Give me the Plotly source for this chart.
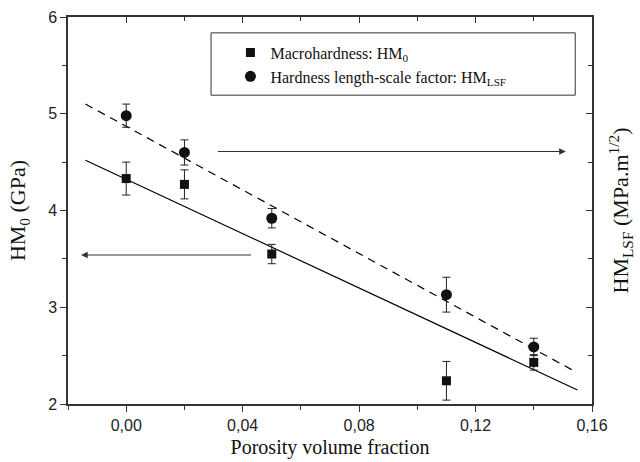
import plotly.graph_objects as go

# Data
porosity = [0.00, 0.02, 0.05, 0.11, 0.14]
hm0 = [4.33, 4.27, 3.55, 2.24, 2.43]
hm0_err = [0.17, 0.15, 0.10, 0.20, 0.08]
hm_lsf = [4.98, 4.60, 3.92, 3.13, 2.59]
hm_lsf_err = [0.12, 0.13, 0.10, 0.18, 0.09]

fit0_x = [-0.014, 0.155]
fit0_y = [4.52, 2.145]
fitl_x = [-0.014, 0.153]
fitl_y = [5.10, 2.355]

x_ticks = [0.00, 0.04, 0.08, 0.12, 0.16]
y_ticks = [2, 3, 4, 5, 6]

serif = "Liberation Serif, Times New Roman, serif"
sans = "Liberation Sans, Arial, sans-serif"
axcol = "#333333"

fig = go.Figure()

fig.add_trace(go.Scatter(x=fit0_x, y=fit0_y, mode="lines",
                         line=dict(color="black", width=1.2), showlegend=False, hoverinfo="skip"))
fig.add_trace(go.Scatter(x=fitl_x, y=fitl_y, mode="lines",
                         line=dict(color="black", width=1.2, dash="8px,6px"), showlegend=False, hoverinfo="skip"))

fig.add_trace(go.Scatter(x=porosity, y=hm0, mode="markers", name="Macrohardness: HM<sub>0</sub>",
                         marker=dict(symbol="square", size=9, color="#111111"),
                         error_y=dict(type="data", array=hm0_err, color="#222222", thickness=1, width=4)))
fig.add_trace(go.Scatter(x=porosity, y=hm_lsf, mode="markers",
                         name="Hardness length-scale factor: HM<sub>LSF</sub>",
                         marker=dict(symbol="circle", size=11, color="#111111"),
                         error_y=dict(type="data", array=hm_lsf_err, color="#222222", thickness=1, width=4)))

# invisible trace to anchor secondary axes
fig.add_trace(go.Scatter(x=[0.0], y=[4.0], xaxis="x2", yaxis="y2", mode="markers",
                         marker=dict(opacity=0), showlegend=False, hoverinfo="skip"))

# arrows
fig.add_annotation(x=-0.0155, y=3.54, ax=0.0434, ay=3.54, xref="x", yref="y", axref="x", ayref="y",
                   text="", showarrow=True, arrowhead=2, arrowsize=1.1, arrowwidth=1.2, arrowcolor="#333333")
fig.add_annotation(x=0.151, y=4.61, ax=0.031, ay=4.61, xref="x", yref="y", axref="x", ayref="y",
                   text="", showarrow=True, arrowhead=2, arrowsize=1.1, arrowwidth=1.2, arrowcolor="#333333")

# legend box
fig.add_shape(type="rect", xref="paper", yref="paper", x0=0.273, x1=0.968, y0=0.798, y1=0.959,
              line=dict(color="#333333", width=1), fillcolor="rgba(0,0,0,0)")

fig.update_layout(
    width=640, height=462,
    margin=dict(l=68, r=48, t=17, b=58),
    paper_bgcolor="white", plot_bgcolor="white",
    separators=",.",
    showlegend=True,
    legend=dict(x=0.31, y=0.952, xanchor="left", yanchor="top", bgcolor="rgba(0,0,0,0)",
                borderwidth=0, font=dict(family=serif, size=16, color="#111111"),
                itemwidth=30, tracegroupgap=0),
    xaxis=dict(range=[-0.02, 0.16], tickvals=x_ticks, tickformat=".2f", automargin=False,
               ticks="outside", ticklen=6, tickcolor=axcol, showline=True, linecolor=axcol, linewidth=1.5,
               showgrid=False, zeroline=False,
               minor=dict(dtick=0.02, tick0=0, ticks="outside", ticklen=4, tickcolor=axcol),
               tickfont=dict(family=sans, size=16, color="#222222"),
               title=dict(text="Porosity volume fraction", font=dict(family=serif, size=20, color="#111111"),
                          standoff=7)),
    yaxis=dict(range=[2, 6], tickvals=y_ticks, automargin=False,
               ticks="outside", ticklen=6, tickcolor=axcol, showline=True, linecolor=axcol, linewidth=1.5,
               showgrid=False, zeroline=False,
               minor=dict(dtick=0.5, tick0=2, ticks="outside", ticklen=4, tickcolor=axcol),
               tickfont=dict(family=sans, size=16, color="#222222"),
               title=dict(text="HM<sub>0</sub> (GPa)", font=dict(family=serif, size=22, color="#111111"),
                          standoff=16)),
    xaxis2=dict(overlaying="x", side="top", matches="x", range=[-0.02, 0.16], tickvals=x_ticks,
                automargin=False,
                ticks="inside", ticklen=6, tickcolor=axcol, showline=True, linecolor=axcol, linewidth=1.5,
                showticklabels=False, showgrid=False, zeroline=False,
                minor=dict(dtick=0.02, tick0=0, ticks="inside", ticklen=4, tickcolor=axcol)),
    yaxis2=dict(overlaying="y", side="right", matches="y", range=[2, 6], tickvals=y_ticks,
                automargin=False,
                ticks="inside", ticklen=6, tickcolor=axcol, showline=True, linecolor=axcol, linewidth=1.5,
                showticklabels=False, showgrid=False, zeroline=False,
                minor=dict(dtick=0.5, tick0=2, ticks="inside", ticklen=4, tickcolor=axcol),
                title=dict(text="HM<sub>LSF</sub> (MPa.m<sup>1/2</sup>)",
                           font=dict(family=serif, size=22, color="#111111"), standoff=20)),
)

fig.write_html("out.html")
